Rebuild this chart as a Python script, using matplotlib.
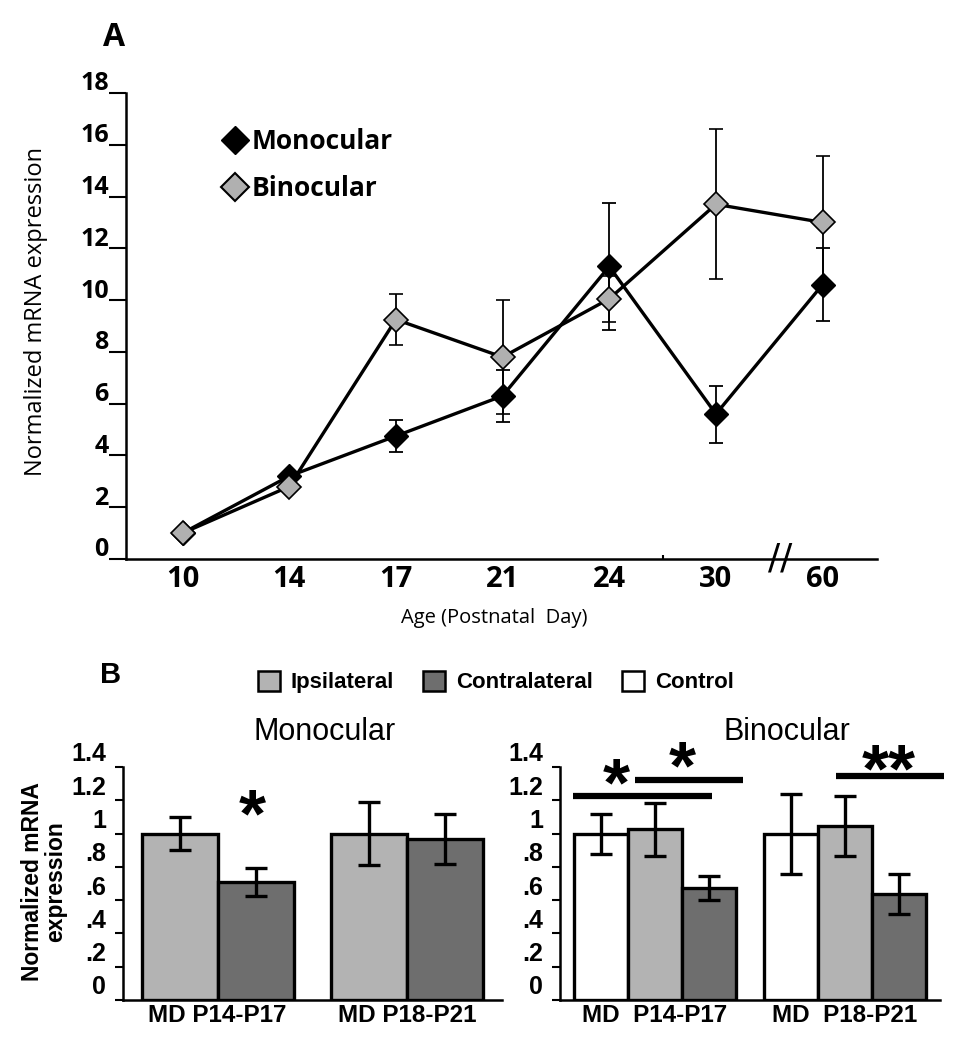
import numpy as np
import matplotlib
matplotlib.use("Agg")
import matplotlib.pyplot as plt
from matplotlib.lines import Line2D
from matplotlib.patches import Patch
from matplotlib.transforms import ScaledTranslation

# ---- panel A data ----
ages = ['10', '14', '17', '21', '24', '30', '60']
mono = [1.0, 3.2, 4.75, 6.3, 11.3, 5.6, 10.6]
mono_err = [0, 0, 0.6, 1.0, 2.45, 1.1, 1.4]
bino = [1.0, 2.8, 9.25, 7.8, 10.05, 13.7, 13.0]
bino_err = [0, 0, 1.0, 2.2, 0.9, 2.9, 2.55]

# ---- panel B data ----
periods = ['MD P14-P17', 'MD P18-P21']
periods_bino = ['MD  P14-P17', 'MD  P18-P21']
mono_ipsi = [1.0, 1.0]
mono_ipsi_err = [0.1, 0.19]
mono_contra = [0.71, 0.966]
mono_contra_err = [0.085, 0.15]
bino_control = [1.0, 1.0]
bino_control_err = [0.12, 0.24]
bino_ipsi = [1.025, 1.045]
bino_ipsi_err = [0.16, 0.18]
bino_contra = [0.675, 0.635]
bino_contra_err = [0.073, 0.12]
b_ticks = [0, 0.2, 0.4, 0.6, 0.8, 1.0, 1.2, 1.4]
b_ticklabels = ['0', '.2', '.4', '.6', '.8', '1', '1.2', '1.4']

# significance marks on the binocular panel: (x0, x1, y, label, label x, label y)
sig_bino = [(-0.43, 0.30, 1.226, '*', -0.206, 1.28),
            (-0.107, 0.464, 1.32, '*', 0.142, 1.38),
            (0.95, 1.52, 1.344, '**', 1.23, 1.36)]
mono_star = (0.18, 1.09)

IPSI = '#b3b3b3'
CONTRA = '#6e6e6e'
GRAYMK = '#b0b0b0'
FA = 'Open Sans'
FB = 'Liberation Sans'

W, H = 980, 1050
fig = plt.figure(figsize=(W / 100, H / 100), dpi=100)


def box(l, t, r, b):
    return [l / W, 1 - b / H, (r - l) / W, (b - t) / H]


def lift(ax, px):
    off = ScaledTranslation(0, px / 100, fig.dpi_scale_trans)
    for lbl in ax.get_yticklabels():
        lbl.set_transform(lbl.get_transform() + off)


# ================= panel A =================
axA = fig.add_axes(box(126, 93, 877, 559))
x = np.arange(len(ages))
axA.errorbar(x, mono, yerr=mono_err, color='black', lw=2.4, marker='D', ms=12,
             mfc='black', mec='black', ecolor='black', elinewidth=1.3,
             capsize=5, capthick=1.3, zorder=3)
axA.errorbar(x, bino, yerr=bino_err, color='black', lw=2.4, marker='D', ms=12,
             mfc=GRAYMK, mec='black', mew=1.2, ecolor='black', elinewidth=1.3,
             capsize=5, capthick=1.3, zorder=4)
axA.set_xlim(-0.53, 6.51)
axA.set_ylim(0, 18)
axA.set_yticks(range(0, 19, 2))
axA.set_yticklabels([str(v) for v in range(0, 19, 2)], fontsize=18,
                    fontweight='bold', family=FA)
axA.set_xticks(x)
axA.set_xticklabels(ages, fontsize=21, fontweight='bold', family=FA)
axA.set_xticks([4.5], minor=True)
axA.tick_params(axis='x', which='major', length=0, pad=4)
axA.tick_params(axis='x', which='minor', length=3, direction='in', width=1.5)
axA.tick_params(axis='y', length=12, width=1.5, pad=0.5)
for s in ['top', 'right']:
    axA.spines[s].set_visible(False)
for s in ['left', 'bottom']:
    axA.spines[s].set_linewidth(1.8)
lift(axA, 12)
axA.set_ylabel('Normalized mRNA expression', fontsize=17, family=FA)
axA.yaxis.set_label_coords(-0.104, 0.532)
axA.set_xlabel('Age (Postnatal  Day)', fontsize=14.5, family=FA)
axA.xaxis.set_label_coords(0.49, -0.105)
axA.text(5.6, 0, '//', fontsize=26, family='DejaVu Sans', ha='center', va='center')

handlesA = [Line2D([], [], ls='none', marker='D', ms=14, mfc='black', mec='black'),
            Line2D([], [], ls='none', marker='D', ms=14, mfc=GRAYMK, mec='black', mew=1.5)]
legA = axA.legend(handlesA, ['Monocular', 'Binocular'], loc='upper left',
                  bbox_to_anchor=(0.10, 0.975), frameon=False, handlelength=0.8,
                  handletextpad=0.2, labelspacing=0.75,
                  prop={'family': FA, 'weight': 'bold', 'size': 19})
fig.text(114 / W, 1 - 37 / H, 'A', fontsize=23, fontweight='bold', family=FA,
         ha='center', va='center')

# ================= panel B =================
axL = fig.add_axes(box(123, 767, 502, 1000))
axR = fig.add_axes(box(560, 767, 940, 1000))
g = np.arange(len(periods))
bar_kw = dict(edgecolor='black', linewidth=2.4, error_kw=dict(elinewidth=2.4,
              capthick=2.4, capsize=8, ecolor='black'))

axL.bar(g - 0.2, mono_ipsi, 0.4, yerr=mono_ipsi_err, color=IPSI, **bar_kw)
axL.bar(g + 0.2, mono_contra, 0.4, yerr=mono_contra_err, color=CONTRA, **bar_kw)
axL.text(mono_star[0], mono_star[1], '*', fontsize=50, family=FB, fontweight='bold',
         ha='center', va='center', clip_on=False)

wr = 0.285
axR.bar(g - wr, bino_control, wr, yerr=bino_control_err, color='white', **bar_kw)
axR.bar(g, bino_ipsi, wr, yerr=bino_ipsi_err, color=IPSI, **bar_kw)
axR.bar(g + wr, bino_contra, wr, yerr=bino_contra_err, color=CONTRA, **bar_kw)
for x0, x1, y, lab, lx, ly in sig_bino:
    axR.plot([x0, x1], [y, y], color='black', lw=4.5, clip_on=False,
             solid_capstyle='butt')
    axR.text(lx, ly, lab, fontsize=50, family=FB, fontweight='bold',
             ha='center', va='center', clip_on=False)

for ax, labels, title, tx in [(axL, periods, 'Monocular', 0.532),
                              (axR, periods_bino, 'Binocular', 0.597)]:
    ax.set_xlim(-0.5, 1.5)
    ax.set_ylim(0, 1.4)
    ax.set_yticks(b_ticks)
    ax.set_yticklabels(b_ticklabels, fontsize=18, fontweight='bold', family=FB)
    ax.set_xticks(g)
    ax.set_xticklabels(labels, fontsize=17.5, fontweight='bold', family=FB)
    ax.tick_params(axis='x', length=0, pad=3)
    ax.tick_params(axis='y', length=6, width=1.5, pad=6)
    for s in ['top', 'right']:
        ax.spines[s].set_visible(False)
    for s in ['left', 'bottom']:
        ax.spines[s].set_linewidth(1.8)
    lift(ax, 15)
    ax.text(tx, 1.15, title, transform=ax.transAxes, fontsize=22, family=FB,
            ha='center', va='center')

axL.set_ylabel('Normalized mRNA\nexpression', fontsize=16.5, fontweight='bold',
               family=FB, linespacing=1.0)
axL.yaxis.set_label_coords(-0.148, 0.51)

handlesB = [Patch(facecolor=IPSI, edgecolor='black', lw=1.8),
            Patch(facecolor=CONTRA, edgecolor='black', lw=1.8),
            Patch(facecolor='white', edgecolor='black', lw=1.8)]
fig.legend(handlesB, ['Ipsilateral', 'Contralateral', 'Control'], loc='center',
           bbox_to_anchor=(496 / W, 1 - 682 / H), ncol=3, frameon=False,
           handlelength=1.0, handleheight=1.0, handletextpad=0.5,
           columnspacing=1.3, prop={'family': FB, 'weight': 'bold', 'size': 16})
fig.text(111 / W, 1 - 675 / H, 'B', fontsize=21, fontweight='bold', family=FB,
         ha='center', va='center')

fig.savefig('out.png', dpi=100)
